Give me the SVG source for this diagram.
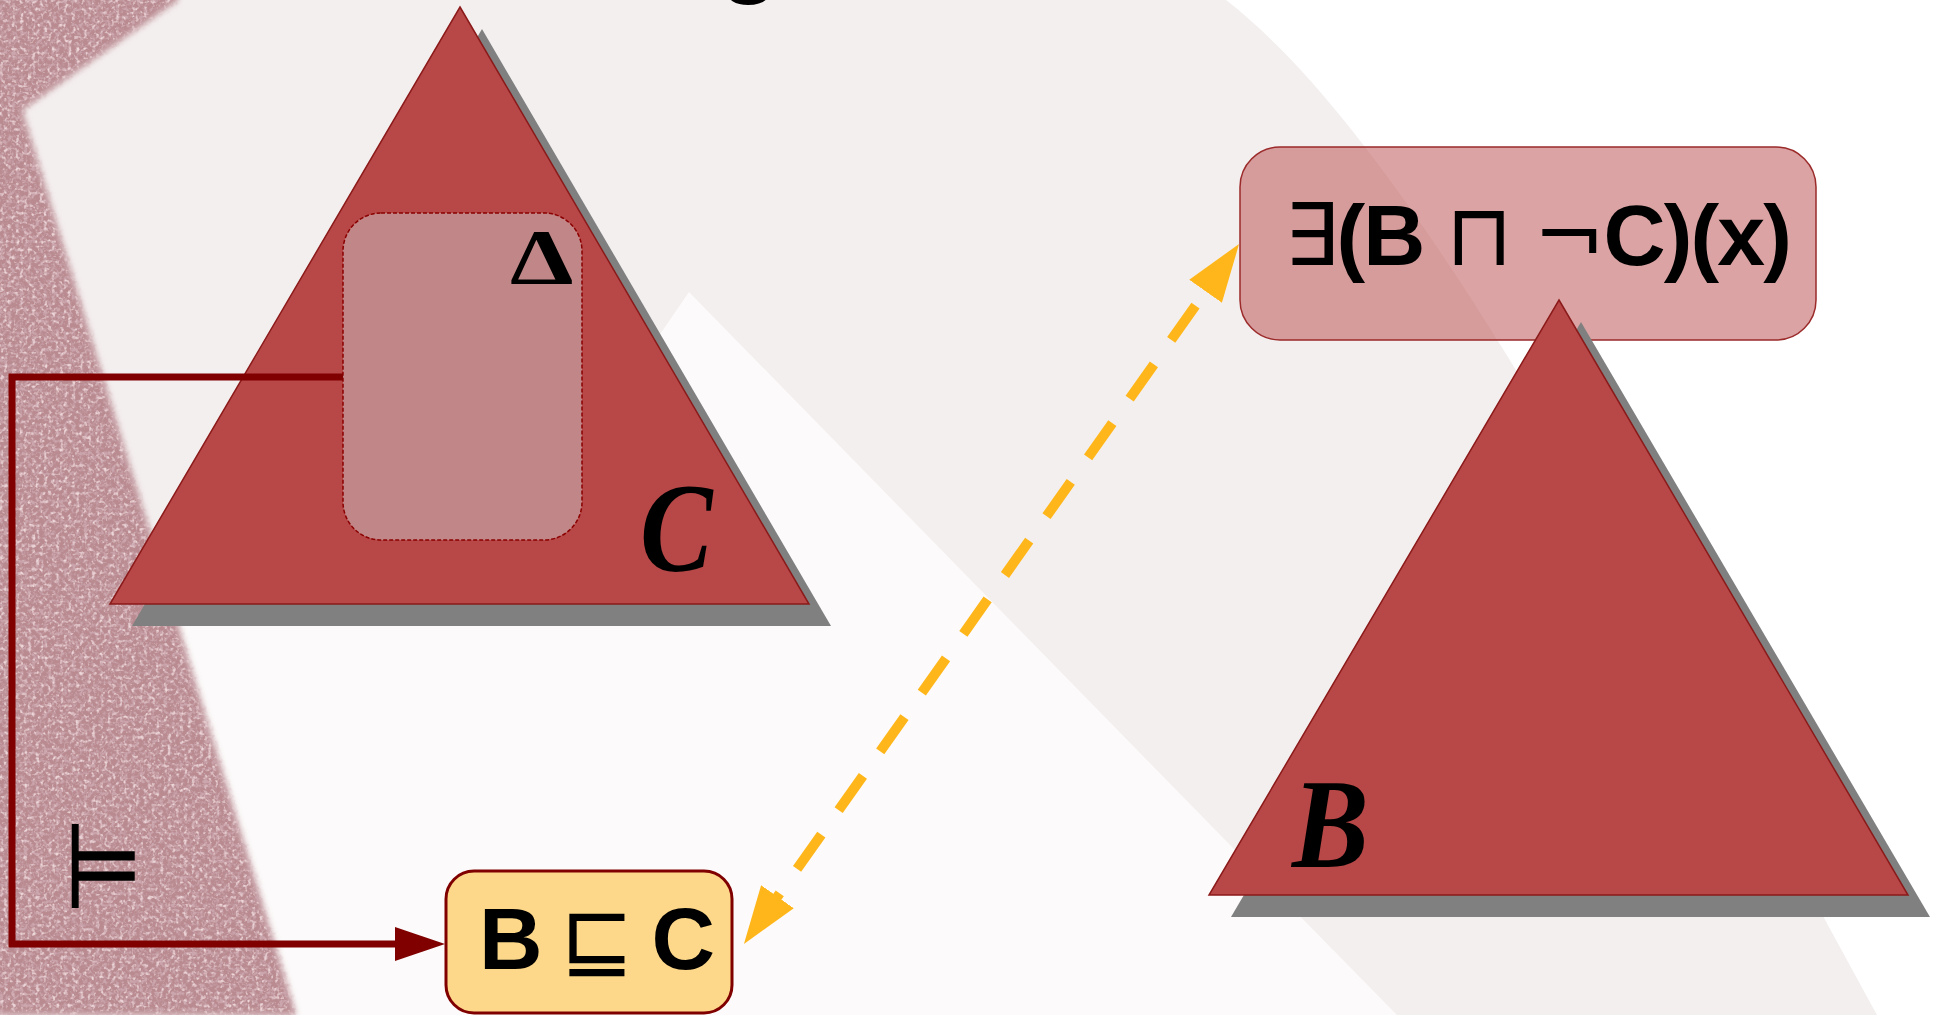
<svg xmlns="http://www.w3.org/2000/svg" width="1943" height="1015" viewBox="0 0 1943 1015">
<defs>
<style>
.tri{fill:#b84747;stroke:#8b1a1a;stroke-width:1.5}
.shadow{fill:#808080}
.bold{font-family:"Liberation Sans","DejaVu Sans",sans-serif;font-weight:bold;fill:#000}
.sym{font-family:"DejaVu Sans",sans-serif;font-weight:normal}
.script{font-family:"Liberation Serif","DejaVu Serif",serif;font-style:italic;font-weight:bold;fill:#000}
</style>
<filter id="soft" x="-5%" y="-5%" width="110%" height="110%"><feGaussianBlur stdDeviation="3"/></filter>
<filter id="grain" x="0" y="0" width="100%" height="100%">
<feTurbulence type="fractalNoise" baseFrequency="0.25" numOctaves="3" seed="7" result="n"/>
<feColorMatrix in="n" type="matrix" values="0 0 0 0 0.60  0 0 0 0 0.38  0 0 0 0 0.42  4 0 0 0 -1.85" result="dark"/>
<feColorMatrix in="n" type="matrix" values="0 0 0 0 0.84  0 0 0 0 0.67  0 0 0 0 0.69  0 3.5 0 0 -1.85" result="light"/>
<feMerge result="m"><feMergeNode in="dark"/><feMergeNode in="light"/></feMerge>
<feGaussianBlur in="SourceGraphic" stdDeviation="3" result="s"/>
<feComposite in="m" in2="s" operator="in"/>
</filter>
<marker id="redHead" markerUnits="userSpaceOnUse" markerWidth="50" markerHeight="34" viewBox="0 0 50 34" refX="25" refY="17" orient="auto"><path d="M0,0 L50,17 L0,34 Z" fill="#800000"/></marker>
<marker id="yelHead" markerUnits="userSpaceOnUse" markerWidth="58" markerHeight="40" viewBox="0 0 58 40" refX="38" refY="20" orient="auto-start-reverse"><path d="M0,0 L58,20 L0,40 Z" fill="#ffb61a"/></marker>
</defs>

<g id="background">
<rect x="0" y="0" width="1943" height="1015" fill="#f4efef"/>
<path d="M689,292 L1233,848 L1397,1015 L296,1015 L150,626 L560,480 Z" fill="#fcfafa"/>
<path d="M1226,0 C1420,150 1650,600 1877,1015 L1943,1015 L1943,0 Z" fill="#ffffff"/>
<path d="M-10,-10 L178,-10 L178,0 L22,110 L296,1015 L-10,1015 Z" fill="#b98b91" filter="url(#soft)"/>
<path d="M-10,-10 L178,-10 L178,0 L22,110 L296,1015 L-10,1015 Z" fill="#000" filter="url(#grain)"/>
</g>

<g id="title-fragment">
<text class="bold" x="719" y="-16" font-size="100">g</text>
</g>

<g id="box-exists">
<rect x="1240" y="147" width="576" height="193" rx="40" fill="#b74848" fill-opacity="0.5" stroke="#9b2a2a" stroke-width="1.5"/>
<text class="bold" x="1284" y="265" font-size="86" textLength="508" lengthAdjust="spacing"><tspan class="sym">∃</tspan>(B <tspan class="sym">⊓</tspan> <tspan class="sym">¬</tspan>C)(x)</text>
</g>

<g id="triangle-C">
<polygon class="shadow" points="482,29 831,626 132,626"/>
<polygon class="tri" points="460,7 809,604 110,604"/>
<text class="script" x="640" y="571" font-size="128" transform="translate(640,0) scale(0.85,1) translate(-640,0)">C</text>
</g>

<g id="delta">
<rect x="343" y="213" width="239" height="327" rx="38" fill="#c18788" stroke="#8b0000" stroke-width="1.5" stroke-dasharray="4 2"/>
<text x="510" y="283" font-family="Liberation Serif,serif" font-weight="bold" font-size="78" fill="#000" transform="translate(510,0) scale(1.3,1) translate(-510,0)">Δ</text>
</g>

<g id="triangle-B">
<polygon class="shadow" points="1581,322 1930,917 1231,917"/>
<polygon class="tri" points="1559,300 1908,895 1209,895"/>
<text class="script" x="1292" y="867" font-size="128" transform="translate(1292,0) scale(0.9,1) translate(-1292,0)">B</text>
</g>

<g id="box-subsumption">
<rect x="446" y="871" width="286" height="142" rx="28" fill="#fdd88a" stroke="#800000" stroke-width="3"/>
<text class="bold" x="479" y="969" font-size="88" textLength="236" lengthAdjust="spacing">B <tspan class="sym">⊑</tspan> C</text>
</g>

<g id="connectors">
<path d="M343,377 H12 V944 H420" fill="none" stroke="#800000" stroke-width="7" marker-end="url(#redHead)"/>
<text x="62" y="907" font-family="DejaVu Sans,sans-serif" font-size="117" fill="#000" stroke="#000" stroke-width="2" transform="translate(74,0) scale(0.75,1) translate(-74,0)">⊨</text>
<line x1="755.5" y1="927.7" x2="1227.5" y2="260.3" stroke="#ffb61a" stroke-width="10" stroke-dasharray="42 30" marker-start="url(#yelHead)" marker-end="url(#yelHead)"/>
</g>
</svg>
